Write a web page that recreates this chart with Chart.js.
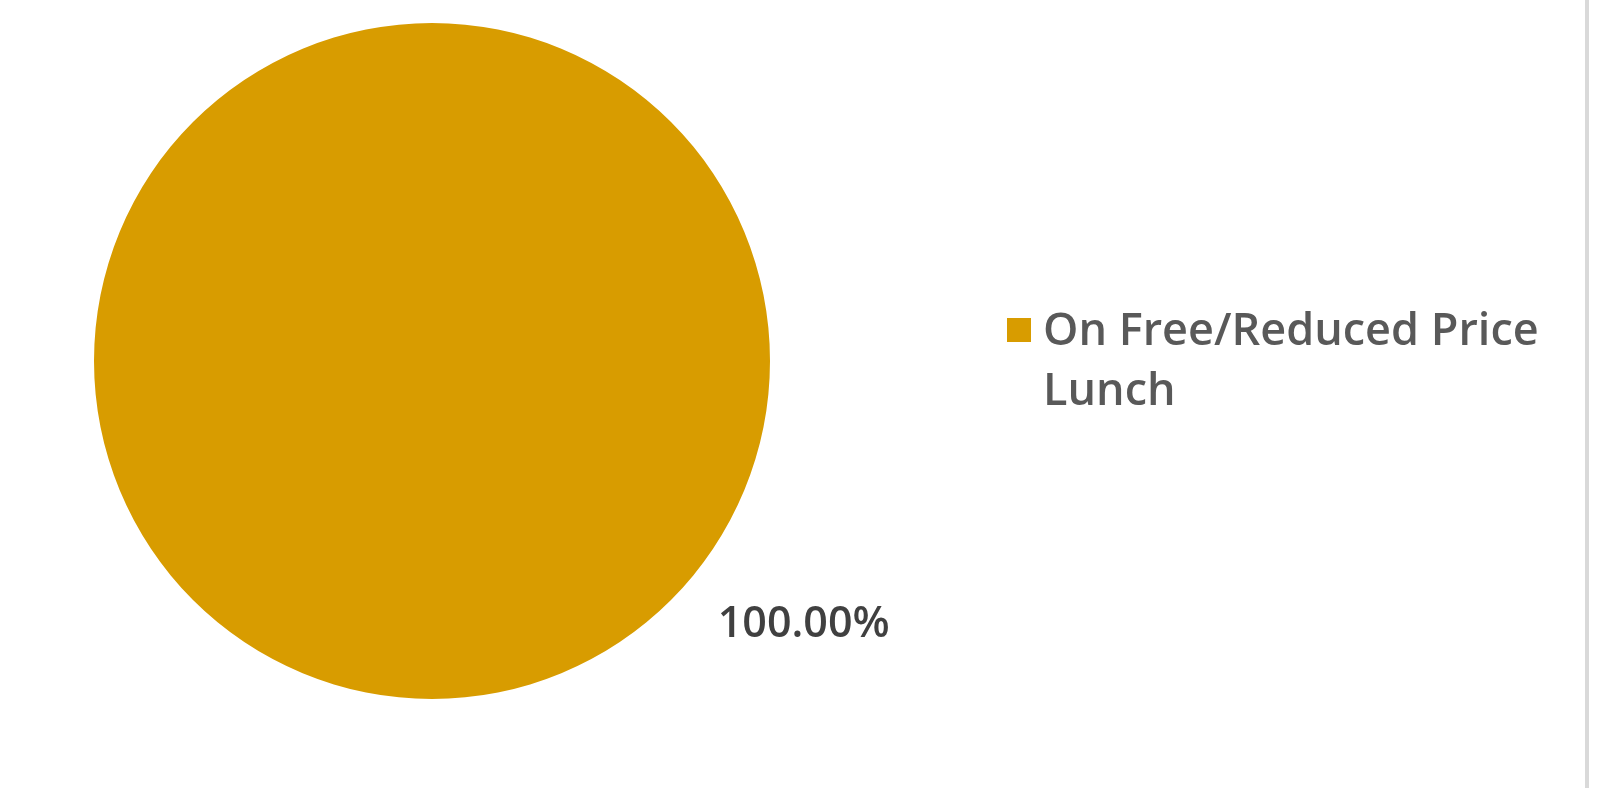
<!DOCTYPE html>
<html>
<head>
<meta charset="utf-8">
<script src="https://cdn.jsdelivr.net/npm/chart.js@4/dist/chart.umd.min.js"></script>
<style>
  html, body { margin: 0; padding: 0; background: #fff; }
  #wrap { width: 1606px; height: 788px; position: relative; }
</style>
</head>
<body>
<div id="wrap"><canvas id="pieChart" width="1606" height="788"></canvas></div>
<script>
// Chart data
const categories = ['On Free/Reduced Price Lunch'];
const values = [100];
const colors = ['#D89C00'];
const legendLines = [['On Free/Reduced Price', 'Lunch']];

// Draws the data label, the legend and the frame line
const extras = {
  id: 'extras',
  afterDraw(chart) {
    const ctx = chart.ctx;
    const meta = chart.getDatasetMeta(0);
    const total = values.reduce((a, b) => a + b, 0);

    // data labels
    ctx.save();
    ctx.font = '600 43px "Open Sans", sans-serif';
    ctx.fillStyle = '#404040';
    ctx.textAlign = 'center';
    ctx.textBaseline = 'middle';
    meta.data.forEach((arc, i) => {
      const ang = 35.4 * Math.PI / 180;
      const dist = arc.outerRadius + 118;
      const pct = (values[i] / total * 100).toFixed(2) + '%';
      ctx.fillText(pct, arc.x + Math.cos(ang) * dist, arc.y + Math.sin(ang) * dist);
    });

    // legend
    ctx.font = '600 45px "Open Sans", sans-serif';
    ctx.textAlign = 'left';
    ctx.textBaseline = 'alphabetic';
    categories.forEach((c, i) => {
      ctx.fillStyle = colors[i];
      ctx.fillRect(1007, 318, 24, 24);
      ctx.fillStyle = '#595959';
      legendLines[i].forEach((line, j) => {
        ctx.fillText(line, 1043, 345 + j * 60);
      });
    });

    // right frame line
    ctx.fillStyle = '#d9d9d9';
    ctx.fillRect(1585, 0, 4, 788);
    ctx.restore();
  }
};

new Chart(document.getElementById('pieChart'), {
  type: 'pie',
  data: {
    labels: categories,
    datasets: [{
      data: values,
      backgroundColor: colors,
      borderWidth: 0
    }]
  },
  options: {
    responsive: false,
    animation: false,
    layout: {
      padding: { left: 94, right: 836, top: 23, bottom: 89 }
    },
    plugins: {
      legend: { display: false },
      tooltip: { enabled: false }
    }
  },
  plugins: [extras]
});
</script>
</body>
</html>
